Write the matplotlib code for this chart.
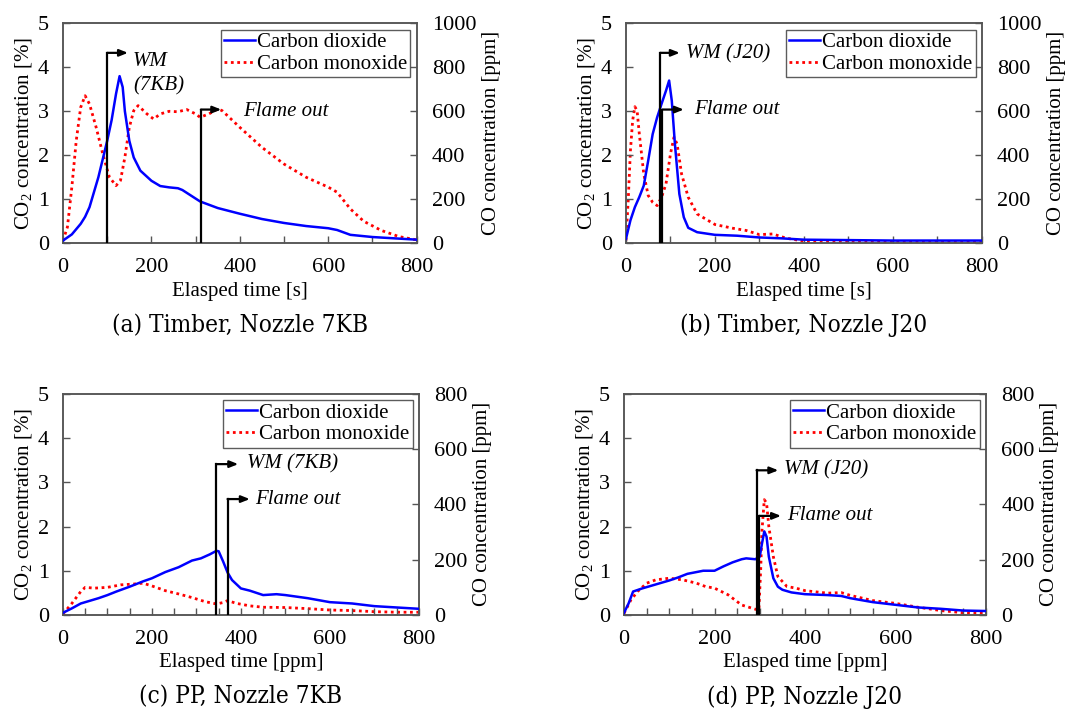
import numpy as np
import matplotlib
matplotlib.use("Agg")
import matplotlib.pyplot as plt
from matplotlib.ticker import MultipleLocator

plt.rcParams["font.family"] = ["Liberation Serif", "DejaVu Serif"]
plt.rcParams["mathtext.fontset"] = "custom"
plt.rcParams["mathtext.rm"] = "Liberation Serif"

# ---- (a) Timber, Nozzle 7KB ----
a_t_co2 = [0, 20, 40, 50, 60, 80, 100, 110, 120, 128, 135, 140, 150, 160, 175, 200, 220, 240, 260,
           270, 290, 310, 350, 400, 450, 500, 550, 600, 620, 650, 700, 750, 800]
a_co2 = [0.06, 0.2, 0.44, 0.6, 0.82, 1.5, 2.33, 2.8, 3.4, 3.8, 3.55, 3.0, 2.33, 1.95, 1.65, 1.42, 1.3,
         1.27, 1.25, 1.21, 1.08, 0.95, 0.8, 0.67, 0.55, 0.46, 0.39, 0.34, 0.3, 0.19, 0.14, 0.11, 0.08]
a_t_co = [0, 10, 20, 30, 40, 50, 60, 75, 90, 105, 120, 130, 140, 150, 160, 170, 190, 205, 220, 240,
          260, 280, 300, 310, 330, 350, 360, 400, 450, 500, 550, 600, 620, 650, 680, 720, 760, 800]
a_co = [12, 73, 255, 467, 618, 671, 633, 527, 406, 300, 262, 285, 391, 527, 603, 626, 588, 565, 588,
        600, 598, 608, 588, 573, 588, 611, 603, 527, 436, 360, 300, 255, 232, 156, 100, 58, 30, 15]

# ---- (b) Timber, Nozzle J20 ----
b_t_co2 = [0, 10, 20, 30, 40, 50, 60, 70, 80, 90, 97, 103, 110, 120, 130, 140, 160, 200, 250, 300,
           350, 400, 500, 600, 800]
b_co2 = [0.1, 0.52, 0.82, 1.05, 1.31, 1.88, 2.48, 2.86, 3.17, 3.47, 3.7, 3.24, 2.26, 1.12, 0.59, 0.35,
         0.25, 0.19, 0.17, 0.13, 0.11, 0.08, 0.07, 0.06, 0.06]
b_t_co = [0, 5, 10, 15, 20, 25, 30, 40, 50, 60, 70, 80, 90, 100, 108, 115, 125, 140, 160, 200, 240,
          270, 300, 330, 360, 400, 500, 800]
b_co = [12, 194, 421, 558, 621, 603, 497, 315, 217, 186, 171, 209, 270, 406, 482, 451, 315, 209, 133,
        85, 68, 58, 39, 42, 23, 9, 6, 6]

# ---- (c) PP, Nozzle 7KB ----
c_t_co2 = [0, 20, 40, 60, 80, 100, 120, 150, 180, 200, 230, 260, 290, 310, 330, 345, 350, 360, 370,
           380, 400, 420, 450, 480, 500, 550, 600, 650, 700, 750, 800]
c_co2 = [0.05, 0.15, 0.26, 0.32, 0.38, 0.45, 0.53, 0.64, 0.76, 0.83, 0.97, 1.08, 1.23, 1.28, 1.37,
         1.45, 1.44, 1.21, 0.96, 0.79, 0.6, 0.55, 0.45, 0.47, 0.45, 0.38, 0.29, 0.26, 0.2, 0.17, 0.14]
c_t_co = [0, 20, 40, 50, 70, 100, 130, 160, 180, 200, 230, 260, 290, 320, 345, 360, 370, 390, 420,
          450, 500, 550, 600, 650, 700, 750, 800]
c_co = [4, 42, 85, 100, 97, 100, 109, 112, 115, 105, 88, 76, 63, 48, 40, 45, 52, 42, 33, 28, 27, 23,
        18, 16, 12, 10, 10]

# ---- (d) PP, Nozzle J20 ----
d_t_co2 = [0, 10, 20, 40, 60, 80, 100, 120, 140, 160, 175, 200, 220, 240, 260, 270, 290, 300, 305,
           310, 315, 320, 330, 340, 350, 370, 400, 450, 480, 500, 550, 600, 650, 700, 750, 800]
d_co2 = [0.05, 0.26, 0.53, 0.6, 0.66, 0.72, 0.78, 0.85, 0.93, 0.97, 1.0, 1.0, 1.1, 1.19, 1.26, 1.28,
         1.26, 1.32, 1.62, 1.89, 1.77, 1.32, 0.83, 0.64, 0.57, 0.51, 0.47, 0.45, 0.43, 0.38, 0.29, 0.23,
         0.17, 0.14, 0.1, 0.09]
d_t_co = [0, 15, 30, 50, 70, 100, 130, 160, 180, 200, 230, 260, 290, 298, 302, 305, 310, 315, 320,
          330, 340, 360, 380, 400, 450, 480, 500, 550, 600, 650, 700, 750, 800]
d_co = [6, 54, 85, 115, 127, 133, 127, 115, 103, 97, 73, 36, 21, 18, 163, 308, 417, 405, 320, 211, 139,
        103, 97, 88, 79, 81, 71, 52, 42, 28, 16, 8, 6]

# annotations: (label, event time, top of marker [%], arrow end, text x, text y)
a_marks = [("WM\n(7KB)", 100, 4.33, 147, 158, 3.85), ("Flame out", 312, 3.04, 358, 408, 3.0)]
b_marks = [("WM (J20)", 77, 4.33, 121, 135, 4.3), ("Flame out", 82, 3.04, 130, 153, 3.05)]
c_marks = [("WM (7KB)", 345, 3.41, 394, 413, 3.41), ("Flame out", 370, 2.62, 420, 431, 2.62)]
d_marks = [("WM (J20)", 293, 3.27, 341, 354, 3.27), ("Flame out", 299, 2.24, 347, 361, 2.24)]

FS = 15


def draw_panel(rect, t_co2, co2, t_co, co, co_max, xminor, marks, xlabel, caption):
    ax = fig.add_axes(rect)
    ax2 = ax.twinx()
    l1, = ax.plot(t_co2, co2, color="#0000ff", lw=1.8, zorder=3)
    l2, = ax2.plot(t_co, co, color="#ff0000", lw=2.0, ls=(0, (1, 1.3)))
    ax.set_zorder(ax2.get_zorder() + 1)
    ax.patch.set_visible(False)

    ax.set_xlim(0, 800)
    ax.set_ylim(0, 5)
    ax2.set_ylim(0, co_max)
    ax.xaxis.set_major_locator(MultipleLocator(200))
    ax.xaxis.set_minor_locator(MultipleLocator(xminor))
    ax.yaxis.set_major_locator(MultipleLocator(1))
    ax2.yaxis.set_major_locator(MultipleLocator(200))
    for a in (ax, ax2):
        a.tick_params(direction="in", length=5, width=1, color="#555555", labelsize=16, pad=10)
        a.tick_params(which="minor", direction="in", length=5, width=1, color="#555555")
        for s in a.spines.values():
            s.set_color("#555555")
            s.set_linewidth(1.1)
    ax.tick_params(axis="x", pad=11)
    ax2.tick_params(axis="y", pad=11)

    ax.set_xlabel(xlabel, fontsize=FS, labelpad=3)
    ax.set_ylabel("CO$_2$ concentration [%]", fontsize=FS, labelpad=2)
    ax2.set_ylabel("CO concentration [ppm]", fontsize=FS, labelpad=4)

    for label, t0, top, t1, tx, ty in marks:
        ax.plot([t0, t0], [0, top], color="black", lw=1.6, zorder=4)
        ax.annotate("", xy=(t1, top), xytext=(t0, top), zorder=4,
                    arrowprops=dict(arrowstyle="-|>,head_length=0.5,head_width=0.2",
                                    color="black", lw=1.6, shrinkA=0, shrinkB=0))
        ax.text(tx, ty, label, fontsize=FS, style="italic", va="center", ha="left", zorder=5,
                linespacing=1.35)

    leg = ax.legend([l1, l2], ["Carbon dioxide", "Carbon monoxide"], loc="upper right",
                    fontsize=FS, frameon=True, fancybox=False, handlelength=1.5,
                    handletextpad=0.1, borderpad=0.15, labelspacing=0.1,
                    borderaxespad=0.3)
    leg.get_frame().set_edgecolor("#333333")
    leg.get_frame().set_linewidth(1.0)

    bb = ax.get_position()
    fig.text(bb.x0 + bb.width / 2, bb.y0 - 0.1157, caption, ha="center", va="center",
             fontsize=17.5, family="DejaVu Serif", stretch="condensed")
    return ax


fig = plt.figure(figsize=(10.75, 7.09), dpi=100)
draw_panel([0.0586, 0.657, 0.329, 0.310], a_t_co2, a_co2, a_t_co, a_co, 1000, 100, a_marks,
           "Elasped time [s]", "(a) Timber, Nozzle 7KB")
draw_panel([0.5823, 0.657, 0.331, 0.310], b_t_co2, b_co2, b_t_co, b_co, 1000, 100, b_marks,
           "Elasped time [s]", "(b) Timber, Nozzle J20")
draw_panel([0.0586, 0.1326, 0.331, 0.312], c_t_co2, c_co2, c_t_co, c_co, 800, 50, c_marks,
           "Elasped time [ppm]", "(c) PP, Nozzle 7KB")
draw_panel([0.5805, 0.1326, 0.3367, 0.312], d_t_co2, d_co2, d_t_co, d_co, 800, 50, d_marks,
           "Elasped time [ppm]", "(d) PP, Nozzle J20")

fig.savefig("out.png", dpi=100)
